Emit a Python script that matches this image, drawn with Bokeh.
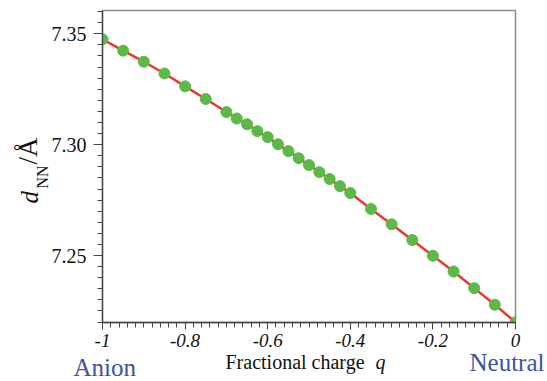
import numpy as np
from bokeh.plotting import figure
from bokeh.layouts import row, column
from bokeh.models import Range1d, FixedTicker, Label, ColumnDataSource
from bokeh.embed import file_html
from bokeh.resources import INLINE

# Data
charge = [-1.0, -0.95, -0.9, -0.85, -0.8, -0.75, -0.7, -0.675, -0.65, -0.625,
          -0.6, -0.575, -0.55, -0.525, -0.5, -0.475, -0.45, -0.425, -0.4,
          -0.35, -0.3, -0.25, -0.2, -0.15, -0.1, -0.05, 0.0]
d_nn = [7.3475, 7.3424, 7.3374, 7.3321, 7.3263, 7.3206, 7.3147, 7.3118, 7.3092,
        7.3061, 7.3034, 7.3002, 7.2971, 7.2939, 7.2908, 7.2876, 7.2845, 7.2813,
        7.2782, 7.2710, 7.2641, 7.2570, 7.2499, 7.2428, 7.2353, 7.2278, 7.2199]

x_major = [-1.0, -0.8, -0.6, -0.4, -0.2, 0.0]
x_major_labels = ["-1", "-0.8", "-0.6", "-0.4", "-0.2", "0"]
y_major = [7.25, 7.30, 7.35]
y_major_labels = ["7.25", "7.30", "7.35"]

x_minor = [round(v, 3) for v in np.arange(-1.0, 0.0001, 0.02)]
y_minor = [round(v, 4) for v in np.arange(7.22, 7.3601, 0.005)]

serif = "Liberation Serif"
ink = "#111111"
blue = "#3b52a3"
K = 0.335  # offset from text middle to alphabetic baseline, in em

src = ColumnDataSource(dict(q=charge, d=d_nn))

# main plot: page x 48..547, y 0..354 ; frame x 100..515, y 10..322
p = figure(width=499, height=354, output_backend="svg", toolbar_location=None,
           title=None,
           x_range=Range1d(-1.0, 0.0), y_range=Range1d(7.2198, 7.3605),
           min_border_left=52, min_border_right=32, min_border_top=10,
           min_border_bottom=32)
p.background_fill_color = "white"
p.border_fill_alpha = 0
p.outline_line_color = "#8a8a8a"
p.outline_line_width = 1.5
p.xgrid.visible = False
p.ygrid.visible = False

p.line("q", "d", source=src, line_color="#e8392c", line_width=2.5)
p.scatter("q", "d", source=src, size=11, fill_color="#5cb947", line_color="#5cb947")

p.xaxis.ticker = FixedTicker(ticks=x_major, minor_ticks=x_minor)
p.yaxis.ticker = FixedTicker(ticks=y_major, minor_ticks=y_minor)
p.xaxis.major_label_overrides = {v: s for v, s in zip(x_major, x_major_labels)}
p.yaxis.major_label_overrides = {v: s for v, s in zip(y_major, y_major_labels)}

for ax in (p.xaxis, p.yaxis):
    ax.axis_line_color = "#444444"
    ax.axis_line_width = 1.3
    ax.major_tick_line_color = "#444444"
    ax.minor_tick_line_color = "#444444"
    ax.major_tick_in = 0
    ax.minor_tick_in = 0

p.yaxis.major_tick_out = 9
p.yaxis.minor_tick_out = 5
p.xaxis.major_tick_out = 7
p.xaxis.minor_tick_out = 5

p.yaxis.major_label_text_font = serif
p.yaxis.major_label_text_font_size = "20px"
p.yaxis.major_label_text_color = ink
p.yaxis.major_label_standoff = 7
p.xaxis.major_label_text_font = serif
p.xaxis.major_label_text_font_style = "italic"
p.xaxis.major_label_text_font_size = "19px"
p.xaxis.major_label_text_color = ink
p.xaxis.major_label_standoff = 4


def blank(w, h, y0, y1):
    f = figure(width=w, height=h, output_backend="svg", toolbar_location=None,
               title=None,
               x_range=Range1d(0, w), y_range=Range1d(y1, y0),
               x_axis_location=None, y_axis_location=None,
               min_border=0, min_border_left=0, min_border_right=0,
               min_border_top=0, min_border_bottom=0)
    f.grid.visible = False
    f.outline_line_color = None
    f.background_fill_alpha = 0
    f.border_fill_alpha = 0
    return f


def tlabel(fig, x, y, text, size, style="normal", color=ink, angle=0.0):
    fig.add_layout(Label(x=x, y=y, text=text, angle=angle,
                         text_font=serif, text_font_style=style,
                         text_font_size=f"{size}px", text_color=color,
                         text_align="left", text_baseline="middle"))


# left strip (page x 0..60, overlapping the empty part of the main plot's left border);
# its frame is aligned with the main frame (page y 10..322)
left = blank(60, 354, 10, 322)
left.margin = (0, -12, 0, 0)
up = np.pi / 2
tlabel(left, 37 - K * 25, 203, "d", 25, style="italic", angle=up)
tlabel(left, 47 - K * 16, 188, "NN", 16, angle=up)
tlabel(left, 37 - K * 27, 164, "/Å", 27, angle=up)

# bottom strip (page y 340..381), pulled up over the main plot's empty lower border
bottom = blank(547, 41, 340, 381)
bottom.margin = (-14, 0, 0, 0)
tlabel(bottom, 225, 368 - K * 20, "Fractional charge", 20)
tlabel(bottom, 375, 368 - K * 20, "q", 20, style="italic")
tlabel(bottom, 73, 375.5 - K * 25, "Anion", 25, color=blue)
tlabel(bottom, 469, 370.5 - K * 25, "Neutral", 25, color=blue)

layout = column(row(left, p, spacing=0), bottom, spacing=0)

open("out.html", "w").write(file_html(layout, INLINE))
